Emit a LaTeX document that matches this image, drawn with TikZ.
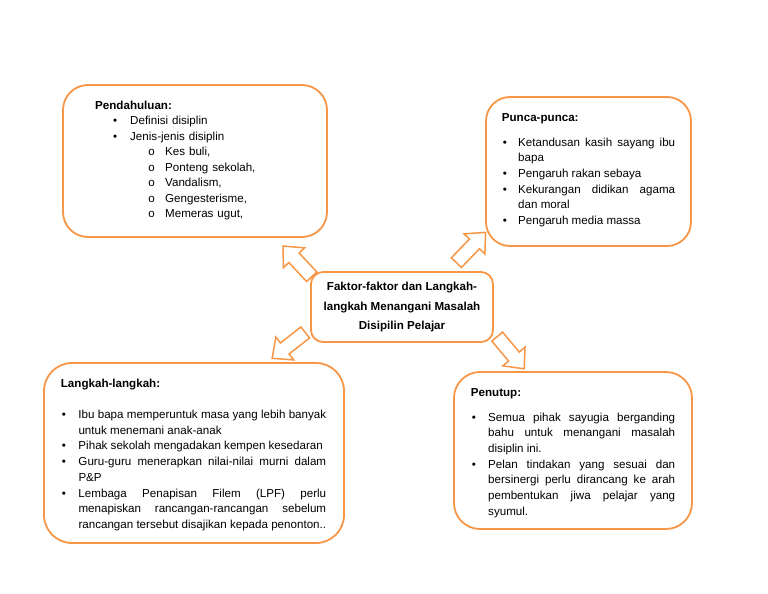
\documentclass[tikz,border=0pt]{standalone}
\usepackage{fontspec}
\setmainfont{Liberation Sans}
\newfontfamily\monof{Liberation Mono}
\definecolor{orangeline}{HTML}{F79646}
\newcommand{\bitem}[2]{\par\noindent\hangindent=#1\relax\hangafter=1\relax\makebox[#1][l]{\hspace{1pt}\textbullet}#2}
\newcommand{\subit}[1]{\hspace*{53pt}\makebox[17pt][l]{\monof o}#1}
\newcommand{\mainit}[1]{\hspace*{18pt}\makebox[17pt][l]{\textbullet}#1}
\newcommand{\nohyph}{\hyphenpenalty=10000\relax\exhyphenpenalty=10000\relax}
\begin{document}
\begin{tikzpicture}[x=1pt,y=-1pt,
  bigbox/.style={draw=orangeline, line width=1.8pt, rounded corners=#1, fill=white, inner sep=0pt},
  arrowline/.style={draw=orangeline, line width=1.5pt, fill=white, line join=miter},
  bodytext/.style={inner sep=0pt, anchor=base west, align=justify,
    font=\fontsize{11.6}{15.7}\selectfont},
  blockarrow/.pic={\draw[arrowline] (-21,-7) -- (5,-7) -- (5,-14.5) -- (21,0) -- (5,14.5) -- (5,7) -- (-21,7) -- cycle;}
]
\useasboundingbox[fill=white] (0,0) rectangle (768,594);

% block arrows
\pic (arrA) [rotate=133] at (297.4,261.4) {blockarrow};
\pic (arrB) [rotate=46] at (471,247.5) {blockarrow};
\pic (arrC) [rotate=218] at (288.7,345.4) {blockarrow};
\pic (arrD) [rotate=310] at (510.7,352.7) {blockarrow};

% boxes
\node[bigbox=25pt, minimum width=264pt, minimum height=152pt] (intro) at (195,161) {};
\node[bigbox=24pt, minimum width=205pt, minimum height=149pt] (punca) at (588.5,171.5) {};
\node[bigbox=28pt, minimum width=300pt, minimum height=180pt] (langkah) at (194,453) {};
\node[bigbox=26pt, minimum width=238pt, minimum height=157pt] (penutup) at (573,450.5) {};
\node[bigbox=12pt, minimum width=182pt, minimum height=70pt, align=center,
      font=\fontsize{11.6}{19.5}\selectfont\bfseries] (center) at (402,307)
  {Faktor-faktor dan Langkah-\\langkah Menangani Masalah\\Disipilin Pelajar};

% texts
\node[bodytext, align=left, text width=230pt, font=\fontsize{11.6}{15.5}\selectfont] (introtext) at (95,109)
  {\textbf{Pendahuluan:}\\
   \mainit{Definisi disiplin}\\
   \mainit{Jenis-jenis disiplin}\\
   \subit{Kes buli,}\\
   \subit{Ponteng sekolah,}\\
   \subit{Vandalism,}\\
   \subit{Gengesterisme,}\\
   \subit{Memeras ugut,}};

\node[bodytext, text width=173.3pt] (puncatext) at (501.7,121)
  {\nohyph\textbf{Punca-punca:}\par\vspace{9.3pt}
   \bitem{16.3pt}{Ketandusan~kasih~sayang~ibu\linebreak bapa}
   \bitem{16.3pt}{Pengaruh~rakan~sebaya}
   \bitem{16.3pt}{Kekurangan~didikan~agama\linebreak dan~moral}
   \bitem{16.3pt}{Pengaruh~media~massa}\par};

\node[bodytext, text width=265.3pt] (langkahtext) at (60.7,387.5)
  {\nohyph\textbf{Langkah-langkah:}\par\vspace{15.3pt}
   \bitem{17.6pt}{Ibu~bapa~memperuntuk~masa~yang~lebih~banyak\linebreak untuk~menemani~anak-anak}
   \bitem{17.6pt}{Pihak~sekolah~mengadakan~kempen~kesedaran}
   \bitem{17.6pt}{Guru-guru~menerapkan~nilai-nilai~murni~dalam\linebreak P\&P}
   \bitem{17.6pt}{Lembaga~Penapisan~Filem~(LPF)~perlu\linebreak menapiskan~rancangan-rancangan~sebelum\linebreak rancangan~tersebut~disajikan~kepada~penonton..}\par};

\node[bodytext, text width=204.3pt] (penututext) at (470.7,396)
  {\nohyph\textbf{Penutup:}\par\vspace{9.3pt}
   \bitem{17.3pt}{Semua~pihak~sayugia~berganding\linebreak bahu~untuk~menangani~masalah\linebreak disiplin~ini.}
   \bitem{17.3pt}{Pelan~tindakan~yang~sesuai~dan\linebreak bersinergi~perlu~dirancang~ke~arah\linebreak pembentukan~jiwa~pelajar~yang\linebreak syumul.}\par};
\end{tikzpicture}
\end{document}
